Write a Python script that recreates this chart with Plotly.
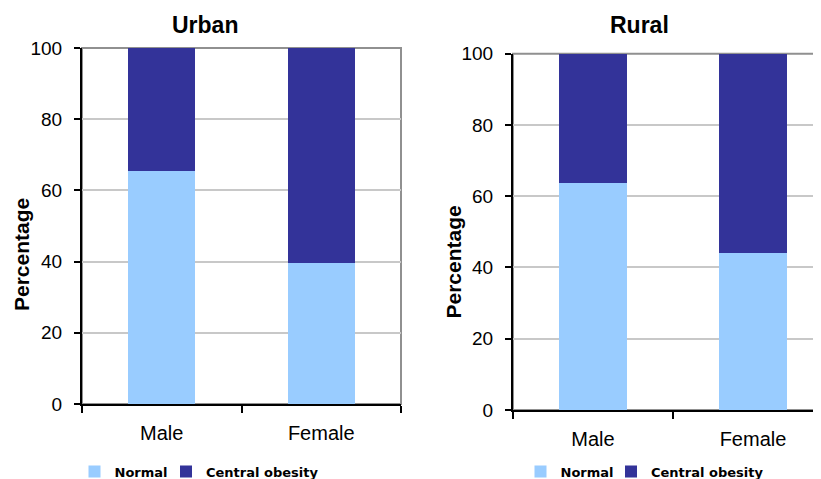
import plotly.graph_objects as go

categories = ["Male", "Female"]
urban_normal = [65.4, 39.6]
urban_central = [34.6, 60.4]
rural_normal = [63.7, 44.1]
rural_central = [36.3, 55.9]
y_ticks = [0, 20, 40, 60, 80, 100]

LIGHT = "#99CCFF"
DARK = "#333399"
FONT = "Liberation Sans, Arial, sans-serif"
LFONT = "DejaVu Sans, Liberation Sans, sans-serif"
OFF = 8  # page body margin of the browser
W, H = 821 - OFF, 479 - OFF

fig = go.Figure()
fig.add_trace(go.Bar(x=categories, y=urban_normal, name="Normal", marker_color=LIGHT,
                     marker_line_width=0, xaxis="x", yaxis="y", legend="legend"))
fig.add_trace(go.Bar(x=categories, y=urban_central, name="Central obesity", marker_color=DARK,
                     marker_line_width=0, xaxis="x", yaxis="y", legend="legend2"))
fig.add_trace(go.Bar(x=categories, y=rural_normal, name="Normal", marker_color=LIGHT,
                     marker_line_width=0, xaxis="x2", yaxis="y2", legend="legend3"))
fig.add_trace(go.Bar(x=categories, y=rural_central, name="Central obesity", marker_color=DARK,
                     marker_line_width=0, xaxis="x2", yaxis="y2", legend="legend4"))

def px(v):
    return (v - OFF) / W

def py(v):
    return 1 - (v - OFF) / H

xcommon = dict(type="category", showline=True, linecolor="black", linewidth=2,
               ticks="outside", tickson="boundaries", ticklen=7, tickwidth=2, tickcolor="black",
               showgrid=False, zeroline=False, fixedrange=True, automargin=False,
               tickfont=dict(family=FONT, size=20, color="black"), ticklabelstandoff=10)
ycommon = dict(range=[0, 100], tickvals=y_ticks, showline=True, linecolor="black", linewidth=2,
               ticks="outside", ticklen=6, tickwidth=2, tickcolor="black",
               showgrid=True, gridcolor="#C8C8C8", gridwidth=2, zeroline=False, fixedrange=True,
               automargin=False,
               tickfont=dict(family=FONT, size=19, color="black"), ticklabelstandoff=8)

def leg(xleft):
    return dict(orientation="h", x=px(xleft), xanchor="left", y=py(471.5), yanchor="middle",
                font=dict(family=LFONT, size=13, color="black", weight="bold"),
                bgcolor="rgba(0,0,0,0)", borderwidth=0)

def ann(text, x, y, size, angle=0):
    return dict(text=text, x=px(x), y=py(y), xref="paper", yref="paper",
                xanchor="center", yanchor="middle", showarrow=False, textangle=angle,
                font=dict(family=FONT, size=size, color="black"))

fig.update_layout(
    width=W, height=H, margin=dict(l=0, r=0, t=0, b=0, pad=0, autoexpand=False),
    paper_bgcolor="white", plot_bgcolor="white", showlegend=True,
    barmode="stack", bargap=0.58,
    xaxis=dict(domain=[px(82), px(401)], anchor="y", range=[-0.5, 1.5], **xcommon),
    yaxis=dict(domain=[py(404), py(48)], anchor="x", **ycommon),
    xaxis2=dict(domain=[px(513), 1.0], anchor="y2", range=[-0.5, -0.5 + 308 / 160], **xcommon),
    yaxis2=dict(domain=[py(410), py(53.7)], anchor="x2", **ycommon),
    legend=leg(74.5),
    legend2=leg(166),
    legend3=leg(520.5),
    legend4=leg(611),
    shapes=[
        dict(type="rect", xref="x domain", yref="y domain", x0=0, x1=1, y0=0, y1=1,
             line=dict(color="#909090", width=2), layer="below"),
        dict(type="rect", xref="x2 domain", yref="y2 domain", x0=0, x1=1.05, y0=0, y1=1,
             line=dict(color="#909090", width=2), layer="below"),
    ],
    annotations=[
        ann("<b>Urban</b>", 205, 25, 23),
        ann("<b>Rural</b>", 639, 25, 23),
        ann("<b>Percentage</b>", 21, 255, 21, -90),
        ann("<b>Percentage</b>", 452.5, 262, 21, -90),
    ],
)

fig.write_html("out.html")
